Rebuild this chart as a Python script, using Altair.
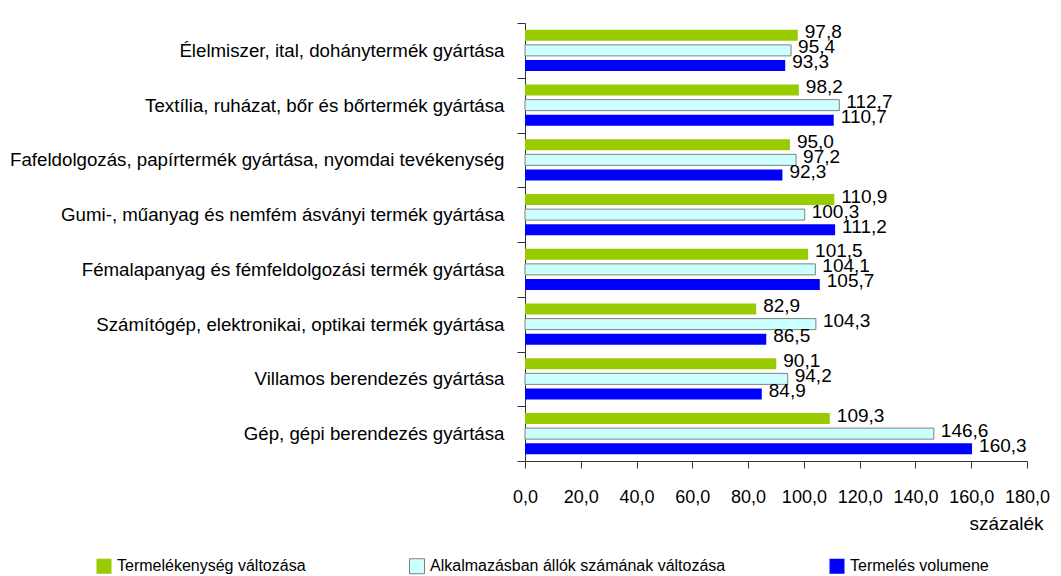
import altair as alt
import pandas as pd

categories = [
    "Élelmiszer, ital, dohánytermék gyártása",
    "Textília, ruházat, bőr és bőrtermék gyártása",
    "Fafeldolgozás, papírtermék gyártása, nyomdai tevékenység",
    "Gumi-, műanyag és nemfém ásványi termék gyártása",
    "Fémalapanyag és fémfeldolgozási termék gyártása",
    "Számítógép, elektronikai, optikai termék gyártása",
    "Villamos berendezés gyártása",
    "Gép, gépi berendezés gyártása",
]
series = [
    "Termelékenység változása",
    "Alkalmazásban állók számának változása",
    "Termelés volumene",
]
productivity = [97.8, 98.2, 95.0, 110.9, 101.5, 82.9, 90.1, 109.3]
employment = [95.4, 112.7, 97.2, 100.3, 104.1, 104.3, 94.2, 146.6]
volume = [93.3, 110.7, 92.3, 111.2, 105.7, 86.5, 84.9, 160.3]
x_ticks = [0, 20, 40, 60, 80, 100, 120, 140, 160, 180]
fill_colors = ["#99CC00", "#CCFFFF", "#0000FF"]
stroke_colors = ["transparent", "#808080", "transparent"]

rows = []
for i, c in enumerate(categories):
    for s, vals in zip(series, [productivity, employment, volume]):
        rows.append({"cat": c, "series": s, "value": vals[i]})
df = pd.DataFrame(rows)

FONT = "Liberation Sans, Arial, sans-serif"
FS = 19

legend_cfg = dict(
    title=None,
    orient="none",
    direction="horizontal",
    legendX=-429,
    legendY=535,
    columnPadding=101,
    symbolType="square",
    symbolSize=225,
    symbolStrokeWidth=1,
    labelFont=FONT,
    labelFontSize=16,
    labelColor="#000000",
    labelOffset=5,
    labelLimit=600,
)

base = alt.Chart(df).transform_calculate(
    label="replace(format(datum.value, '.1f'), '.', ',')"
).encode(
    y=alt.Y(
        "cat:N",
        sort=categories,
        scale=alt.Scale(paddingInner=0, paddingOuter=0),
        axis=alt.Axis(
            title=None,
            tickBand="extent",
            tickSize=8,
            labelPadding=13,
            labelLimit=700,
            labelFont=FONT,
            labelFontSize=18.7,
            labelColor="#000000",
            domainColor="#333333",
            tickColor="#333333",
        ),
    ),
    yOffset=alt.YOffset(
        "series:N",
        sort=series,
        scale=alt.Scale(domain=series, paddingInner=0.267, paddingOuter=0.457),
    ),
)

bars = base.mark_bar(strokeWidth=1).encode(
    x=alt.X(
        "value:Q",
        scale=alt.Scale(domain=[0, 180], nice=False, zero=True),
        axis=alt.Axis(
            values=x_ticks,
            labelExpr="replace(format(datum.value, '.1f'), '.', ',')",
            labelOverlap=False,
            labelFlush=False,
            grid=False,
            tickSize=7,
            labelPadding=20,
            labelFont=FONT,
            labelFontSize=18,
            labelColor="#000000",
            domainColor="#333333",
            tickColor="#333333",
            title="százalék",
            titleFont=FONT,
            titleFontSize=FS,
            titleFontWeight="normal",
            titleColor="#000000",
            titleAlign="right",
            titleBaseline="middle",
            titleX=518,
            titleY=62,
        ),
    ),
    color=alt.Color(
        "series:N",
        sort=series,
        scale=alt.Scale(domain=series, range=fill_colors),
        legend=alt.Legend(**legend_cfg),
    ),
    stroke=alt.Stroke(
        "series:N",
        sort=series,
        scale=alt.Scale(domain=series, range=stroke_colors),
        legend=alt.Legend(**legend_cfg),
    ),
)

labels = base.mark_text(
    align="left", baseline="middle", dx=7, dy=-3, font=FONT, fontSize=FS, color="#000000"
).encode(
    x=alt.X("value:Q"),
    text=alt.Text("label:N"),
)

chart = (
    alt.layer(bars, labels)
    .properties(
        width=502,
        height=438,
        autosize=alt.AutoSizeParams(type="none"),
        padding={"left": 517, "top": 15, "right": 26, "bottom": 115},
    )
    .configure_view(stroke=None)
)

chart.save("out.html", embed_options={"renderer": "svg", "actions": False})
